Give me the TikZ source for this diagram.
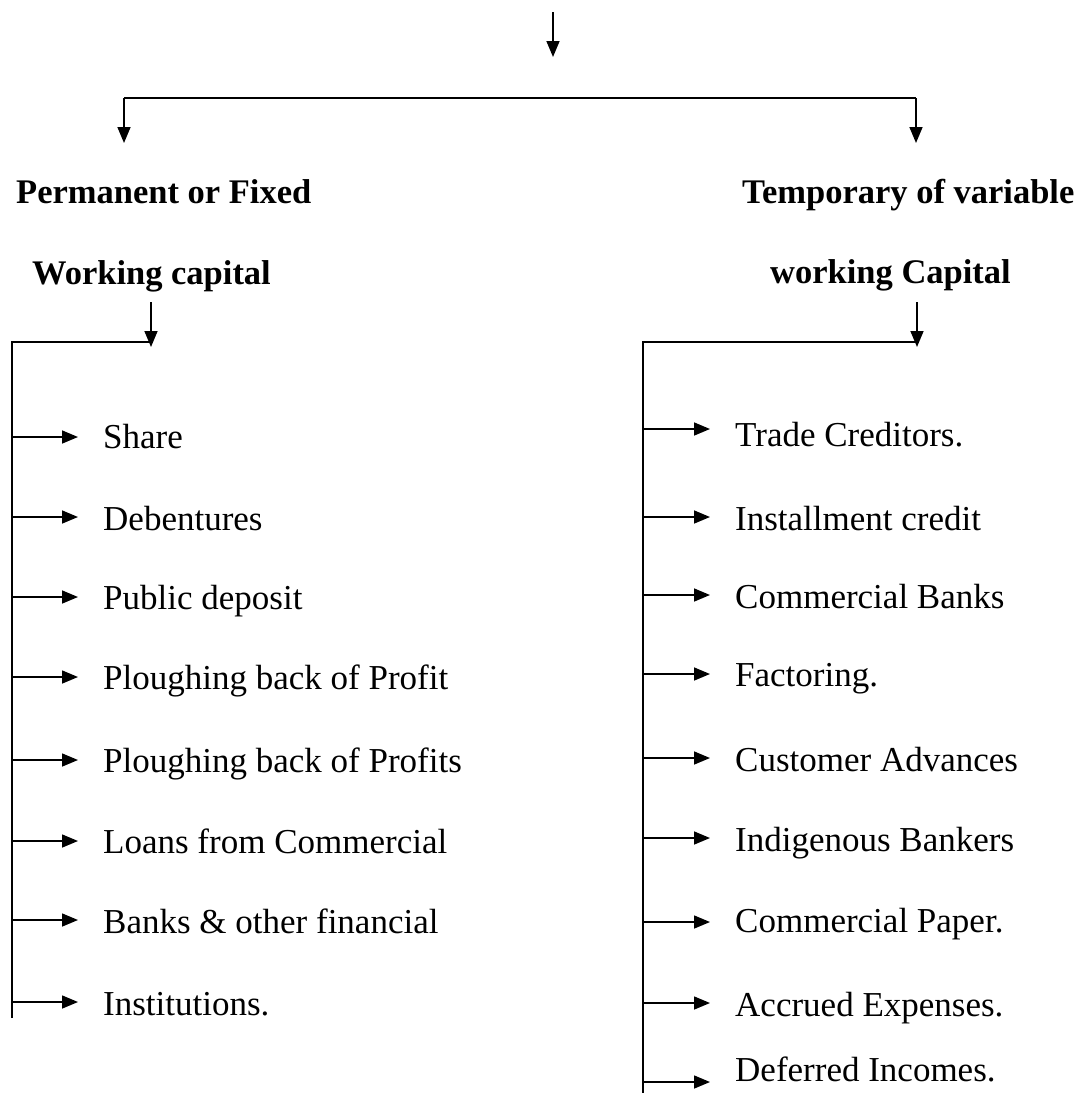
\documentclass[tikz,border=0pt]{standalone}
\usepackage{fontspec}
\setmainfont{Liberation Serif}
\usetikzlibrary{arrows.meta}
\begin{document}
\begin{tikzpicture}[x=1pt,y=-1pt,
  conn/.style={line width=1.6pt, black},
  arr/.style={conn, -{Triangle[length=16pt,width=13pt]}},
  branch/.style={arr, shorten >=25pt},
  head/.style={font=\fontsize{34.5}{40}\selectfont\bfseries, inner sep=0pt, anchor=base west},
  item/.style={font=\fontsize{35}{40}\selectfont, inner sep=0pt, anchor=base west}]
\useasboundingbox (0,0) rectangle (1089,1093);

% headings
\node[head] (p1) at (16,203) {Permanent or Fixed};
\node[head] (p2) at (32,284) {Working capital};
\node[head] (t1) at (742,203) {Temporary of variable};
\node[head] (t2) at (770,283) {working Capital};

% top connectors
\coordinate (top) at (553,12);
\coordinate (topEnd) at (553,57);
\coordinate (barL) at (124,98);
\coordinate (barR) at (916,98);
\coordinate (barLEnd) at (124,143);
\coordinate (barREnd) at (916,143);
\draw[arr] (top) -- (topEnd);
\draw[conn, line width=2.2pt] (barL) -- (barR);
\draw[arr] (barL) -- (barLEnd);
\draw[arr] (barR) -- (barREnd);

% left sub tree
\coordinate (lsubS) at (151,302);
\coordinate (lsubE) at (151,347);
\coordinate (lh) at (12,342);
\coordinate (lbot) at (12,1018);
\draw[arr] (lsubS) -- (lsubE);
\draw[conn] (lbot) -- (lh) -- (lh -| lsubS);

\foreach \n/\y/\b/\t in {l1/437/448/{Share},
                         l2/517/530/{Debentures},
                         l3/597/609/{Public deposit},
                         l4/677/689/{Ploughing back of Profit},
                         l5/760/772/{Ploughing back of Profits},
                         l6/841/853/{Loans from Commercial},
                         l7/920/933/{Banks \& other financial},
                         l8/1002/1015/{Institutions.}}{
  \node[item] (\n) at (103,\b) {\t};
  \coordinate (\n b) at (12,\y);
  \draw[branch] (\n b) -- (\n b -| \n.west);
}

% right sub tree
\coordinate (rsubS) at (917,302);
\coordinate (rsubE) at (917,347);
\coordinate (rh) at (643,342);
\coordinate (rbot) at (643,1093);
\draw[arr] (rsubS) -- (rsubE);
\draw[conn] (rbot) -- (rh) -- (rh -| rsubS);

\foreach \n/\y/\b/\t in {r1/429/446/{Trade Creditors.},
                         r2/517/530/{Installment credit},
                         r3/595/608/{Commercial Banks},
                         r4/674/686/{Factoring.},
                         r5/758/771/{Customer Advances},
                         r6/838/851/{Indigenous Bankers},
                         r7/922/932/{Commercial Paper.},
                         r8/1003/1016/{Accrued Expenses.},
                         r9/1082/1081/{Deferred Incomes.}}{
  \node[item] (\n) at (735,\b) {\t};
  \coordinate (\n b) at (643,\y);
  \draw[branch] (\n b) -- (\n b -| \n.west);
}
\end{tikzpicture}
\end{document}
